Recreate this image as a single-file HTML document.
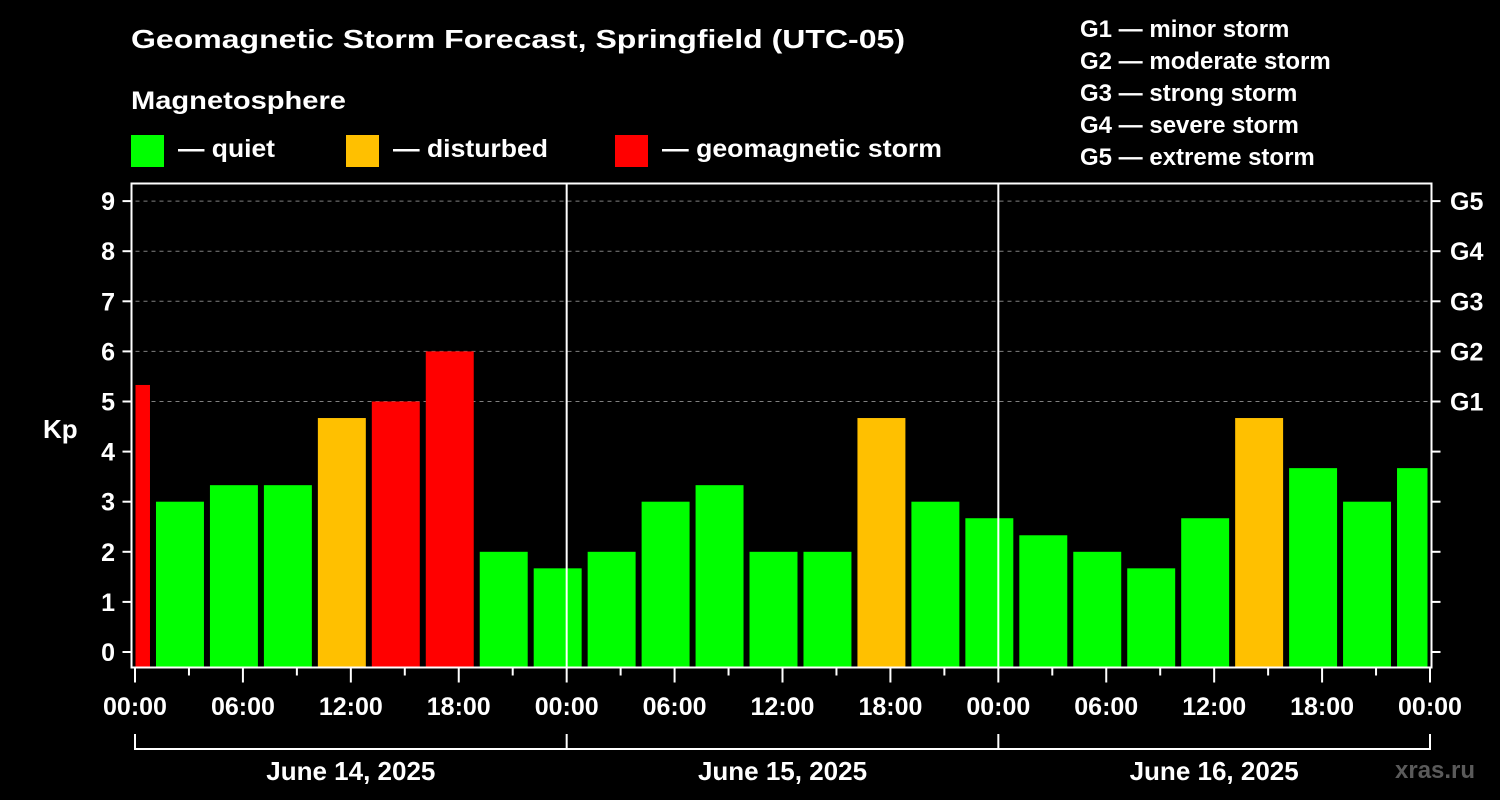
<!DOCTYPE html>
<html><head><meta charset="utf-8"><style>
html,body{margin:0;padding:0;background:#000;}
svg{display:block;font-family:"Liberation Sans",sans-serif;font-weight:bold;}
</style></head><body>
<svg id="chart" width="1500" height="800" viewBox="0 0 1500 800">
<rect x="0" y="0" width="1500" height="800" fill="#000"/>
<text x="131" y="48" fill="#fff" font-size="26" textLength="774" lengthAdjust="spacingAndGlyphs">Geomagnetic Storm Forecast, Springfield (UTC-05)</text>
<text x="131" y="109" fill="#fff" font-size="25" textLength="215" lengthAdjust="spacingAndGlyphs">Magnetosphere</text>
<g><rect x="131" y="135" width="33" height="32" fill="#00ff00"/><text x="178" y="157" fill="#fff" font-size="25" textLength="97" lengthAdjust="spacingAndGlyphs">— quiet</text></g>
<g><rect x="346" y="135" width="33" height="32" fill="#ffc000"/><text x="393" y="157" fill="#fff" font-size="25" textLength="155" lengthAdjust="spacingAndGlyphs">— disturbed</text></g>
<g><rect x="615" y="135" width="33" height="32" fill="#ff0000"/><text x="662" y="157" fill="#fff" font-size="25" textLength="280" lengthAdjust="spacingAndGlyphs">— geomagnetic storm</text></g>
<g id="glegend" fill="#fff" font-size="24"></g>
<g id="grid"></g>
<g id="bars"></g>
<g id="axes"></g>
<text x="43" y="438" fill="#fff" font-size="26">Kp</text>
<text x="1395" y="778" fill="#5a5a5a" font-size="24">xras.ru</text>
</svg>
<script>
const kpValues = [5.33, 3, 3.33, 3.33, 4.67, 5, 6, 2, 1.67, 2, 3, 3.33, 2, 2, 4.67, 3, 2.67, 2.33, 2, 1.67, 2.67, 4.67, 3.67, 3, 3.67];
const blockStartHour = -2;
const blockHours = 3;
const dayLabels = ["June 14, 2025", "June 15, 2025", "June 16, 2025"];
const timeLabels = ["00:00", "06:00", "12:00", "18:00"];
const gLabels = ["G1", "G2", "G3", "G4", "G5"];
const gDescriptions = ["minor storm", "moderate storm", "strong storm", "severe storm", "extreme storm"];
const yTicks = [0, 1, 2, 3, 4, 5, 6, 7, 8, 9];

const NS = "http://www.w3.org/2000/svg";
const X0 = 135, PXH = 1295 / 72, Y0 = 652, PXK = 50.1;
const PL = 131.5, PR = 1431.5, PT = 183.5, PB = 667.5;
const xs = h => X0 + h * PXH;
const ys = k => Y0 - k * PXK;
function mk(tag, attrs, parent) {
  const e = document.createElementNS(NS, tag);
  for (const k in attrs) e.setAttribute(k, attrs[k]);
  parent.appendChild(e);
  return e;
}
const grid = document.getElementById('grid'), bars = document.getElementById('bars'), axes = document.getElementById('axes'), gl = document.getElementById('glegend');

gLabels.forEach((g, i) => {
  const t = mk('text', {x: 1080, y: 37 + i * 32}, gl);
  
  
  t.textContent = g + ' — ' + gDescriptions[i];
});

// gridlines
yTicks.forEach(k => {
  if (k >= 5) {
    const l = mk('line', {x1: PL + 4, x2: PR, y1: ys(k), y2: ys(k), stroke: '#808080', 'stroke-width': 1, 'stroke-dasharray': '4,4'}, grid);
    
    
  }
});

// bars
kpValues.forEach((v, i) => {
  const hs = blockStartHour + i * blockHours, he = hs + blockHours;
  let x1 = xs(hs) + 3, x2 = xs(he) - 3;
  x1 = Math.max(x1, PL + 4); x2 = Math.min(x2, PR - 4);
  const color = v >= 5 ? '#ff0000' : (v >= 4 ? '#ffc000' : '#00ff00');
  const r = mk('rect', {x: x1, y: ys(v), width: x2 - x1, height: PB - ys(v), fill: color}, bars);
  
  
});

// day separators
[1, 2].forEach(d => {
  const l = mk('line', {x1: xs(d * 24), x2: xs(d * 24), y1: PT, y2: PB, stroke: '#fff', 'stroke-width': 2}, axes);
  
  
});

// frame
const f = mk('rect', {x: PL, y: PT, width: PR - PL, height: PB - PT, fill: 'none', stroke: '#fff', 'stroke-width': 2}, axes);



// y ticks
yTicks.forEach(k => {
  mk('line', {x1: PL - 9, x2: PL, y1: ys(k), y2: ys(k), stroke: '#fff', 'stroke-width': 2}, axes);
  mk('line', {x1: PR, x2: PR + 9, y1: ys(k), y2: ys(k), stroke: '#fff', 'stroke-width': 2}, axes);
  const t = mk('text', {x: 115, y: ys(k) + 9, fill: '#fff', 'font-size': 25, 'text-anchor': 'end'}, axes);
  
  
  t.textContent = k;
  if (k >= 5) {
    const g = mk('text', {x: 1450, y: ys(k) + 9, fill: '#fff', 'font-size': 25}, axes);
    
    
    g.textContent = gLabels[k - 5];
  }
});

// x ticks
for (let h = 0; h <= 72; h += 3) {
  const major = h % 6 === 0;
  mk('line', {x1: xs(h), x2: xs(h), y1: PB, y2: PB + (major ? 15 : 8), stroke: '#fff', 'stroke-width': 2}, axes);
  if (major) {
    const t = mk('text', {x: xs(h), y: 715, fill: '#fff', 'font-size': 25, 'text-anchor': 'middle'}, axes);
    
    
    t.textContent = timeLabels[(h / 6) % 4];
  }
}

// day brackets
mk('polyline', {points: `${xs(0)},734 ${xs(0)},749 ${xs(72)},749 ${xs(72)},734`, fill: 'none', stroke: '#fff', 'stroke-width': 2}, axes);
dayLabels.forEach((d, i) => {
  if (i > 0) mk('line', {x1: xs(i * 24), x2: xs(i * 24), y1: 734, y2: 749, stroke: '#fff', 'stroke-width': 2}, axes);
  const t = mk('text', {x: xs(i * 24 + 12), y: 780, fill: '#fff', 'font-size': 26, 'text-anchor': 'middle'}, axes);
  
  
  t.textContent = d;
});
</script>
</body></html>
